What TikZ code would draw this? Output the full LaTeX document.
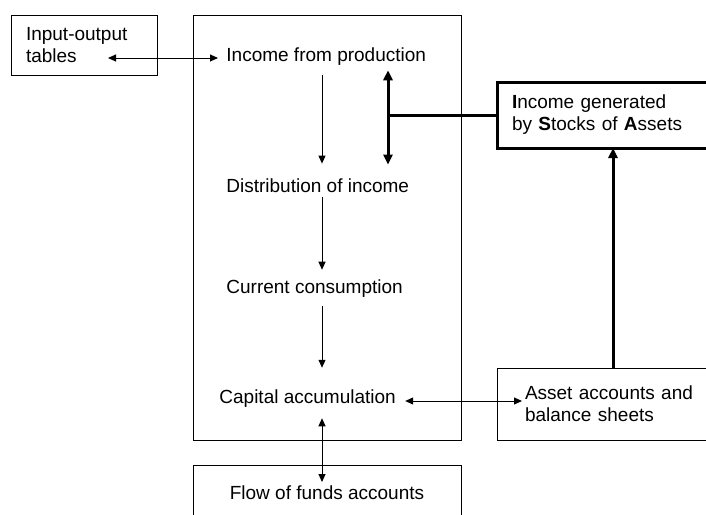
\documentclass[tikz,border=0pt]{standalone}
\usepackage{fontspec}
\setmainfont{Liberation Sans}
\usetikzlibrary{arrows.meta,positioning,calc}

\begin{document}
\begin{tikzpicture}[x=0.5pt,y=-0.5pt,
  font=\fontsize{9.5}{11}\selectfont,
  box/.style={draw,line width=0.5pt,align=left,inner ysep=0pt,outer sep=0pt},
  lbl/.style={inner sep=2pt,anchor=west},
  ar/.style={-{Triangle[length=4pt,width=3.5pt]},line width=0.5pt},
  dar/.style={{Triangle[length=4pt,width=3.5pt]}-{Triangle[length=4pt,width=3.5pt]},line width=0.5pt},
  tar/.style={-{Triangle[length=5pt,width=4.5pt]},line width=1.5pt},
  tdar/.style={{Triangle[length=5pt,width=4.5pt]}-{Triangle[length=5pt,width=4.5pt]},line width=1.5pt}]
\useasboundingbox (0,0) rectangle (706,514);
% boxes
\node[box,anchor=north west,minimum height=30pt,text width=58pt,inner xsep=7.5pt] (iotab) at (11,15)
  {Input-output\\tables};
\node[box,anchor=north west,minimum width=134pt,minimum height=212.5pt] (sna) at (193,15) {};
\node[box,anchor=north west,minimum width=134pt,minimum height=28pt] (flow) at (193,465)
  {Flow of funds accounts};
\node[box,line width=1.5pt,anchor=north west,minimum height=33pt,text width=95pt,inner xsep=7.5pt] (igsa) at (497,82)
  {\textbf{I}ncome generated\\by \textbf{S}tocks of \textbf{A}ssets};
\node[box,anchor=north west,minimum height=36pt,text width=95pt,inner xsep=14pt] (asset) at (497,368)
  {Asset accounts and\\balance sheets};
% stages inside the accounts
\node[lbl] (inc) at (222,57) {Income from production};
\node[lbl] (distr) at (222,186) {Distribution of income};
\node[lbl] (cons) at (222,289) {Current consumption};
\node[lbl] (capac) at (215,399) {Capital accumulation};
\coordinate (spine) at (322,0);
\coordinate (thk) at (388,0);
\coordinate (rise) at (613,0);
\coordinate (iolink) at (108,58);
% links
\draw[dar,shorten >=2pt] (iolink) -- (iolink -| inc.west);
\draw[ar,shorten <=2.5pt,shorten >=5.5pt] (inc.south -| spine) -- (distr.north -| spine);
\draw[ar,shorten >=3pt] (distr.south -| spine) -- (cons.north -| spine);
\draw[ar,shorten <=2pt,shorten >=9pt] (cons.south -| spine) -- (capac.north -| spine);
\draw[tdar,shorten <=0pt,shorten >=5pt] (inc.south -| thk) -- (distr.north -| thk);
\draw[line width=1.5pt] (igsa.west) -- (igsa.west -| thk);
\draw[tar] (asset.north -| rise) -- (igsa.south -| rise);
\draw[dar,shorten <=2.5pt] ([yshift=-1pt]capac.east) -- ([xshift=12.5pt,yshift=-1pt]asset.west |- capac.east);
\draw[dar,shorten <=3pt] (capac.south -| spine) -- ([yshift=-8.5pt]flow.north -| spine);
\end{tikzpicture}
\end{document}
